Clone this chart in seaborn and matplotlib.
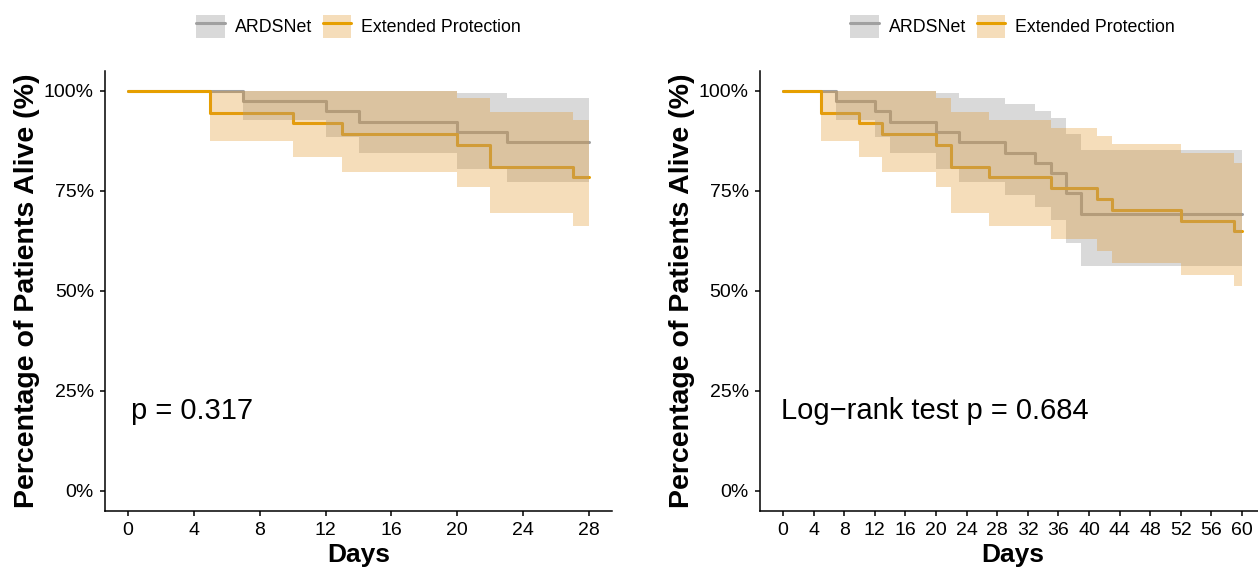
import numpy as np
import pandas as pd
import matplotlib
matplotlib.use("Agg")
import matplotlib.pyplot as plt
import seaborn as sns
from matplotlib.patches import Patch
from matplotlib.lines import Line2D
from matplotlib.ticker import FuncFormatter

# Kaplan-Meier steps (percent of patients alive)
ards_time = [0, 7, 12, 14, 20, 23, 29, 33, 35, 37, 39]
ards_surv = [100, 97.4, 94.9, 92.3, 89.7, 87.2, 84.6, 82.1, 79.5, 74.4, 69.2]
ards_upper = [100, 100, 100, 100, 99.6, 98.2, 96.7, 95.0, 93.2, 89.3, 85.3]
ards_lower = [100, 92.7, 88.6, 84.4, 80.5, 77.3, 74.0, 71.0, 67.7, 61.9, 56.3]

ext_time = [0, 5, 10, 13, 20, 22, 27, 35, 41, 43, 52, 59]
ext_surv = [100, 94.6, 91.9, 89.2, 86.5, 81.1, 78.4, 75.7, 73.0, 70.3, 67.6, 64.9]
ext_upper = [100, 100, 100, 100, 98.2, 94.7, 92.7, 90.7, 88.8, 86.7, 84.4, 82.1]
ext_lower = [100, 87.6, 83.6, 79.8, 76.1, 69.4, 66.2, 63.1, 60.0, 57.1, 54.1, 51.2]

groups = ["ARDSNet", "Extended Protection"]
y_ticks = [0, 25, 50, 75, 100]

# one panel per follow-up window
follow_up = [28, 60]
pval_labels = ["p = 0.317", "Log\u2212rank test p = 0.684"]

colors = {"ARDSNet": "#A0A0A0", "Extended Protection": "#E69F00"}
band_colors = {"ARDSNet": "#A0A0A0", "Extended Protection": "#E0962A"}
band_alpha = {"ARDSNet": 0.4, "Extended Protection": 0.32}


def km_frame(time, surv, lower, upper, end, name):
    df = pd.DataFrame({"time": time, "surv": surv, "lower": lower, "upper": upper})
    df = df[df["time"] <= end]
    last = df.iloc[[-1]].copy()
    last["time"] = end
    df = pd.concat([df, last], ignore_index=True)
    df["group"] = name
    return df


sns.set_theme(style="ticks", rc={
    "axes.edgecolor": "black",
    "axes.labelcolor": "black",
    "xtick.color": "black",
    "ytick.color": "black",
    "text.color": "black",
    "axes.linewidth": 1.1,
    "xtick.major.width": 1.1,
    "ytick.major.width": 1.1,
    "xtick.major.size": 3.5,
    "ytick.major.size": 3.5,
})
plt.rcParams["font.family"] = ["Liberation Sans", "DejaVu Sans"]

fig = plt.figure(figsize=(12.58, 5.68), dpi=100)
positions = [[0.0835, 0.1004, 0.403, 0.7746], [0.6041, 0.1004, 0.4014, 0.7746]]
pval_x = [0.2, -0.3]

for pos, end, ptxt, px in zip(positions, follow_up, pval_labels, pval_x):
    ax = fig.add_axes(pos)
    data = pd.concat([
        km_frame(ards_time, ards_surv, ards_lower, ards_upper, end, "ARDSNet"),
        km_frame(ext_time, ext_surv, ext_lower, ext_upper, end, "Extended Protection"),
    ], ignore_index=True)

    sns.lineplot(data=data, x="time", y="surv", hue="group", hue_order=groups,
                 palette=colors, drawstyle="steps-post", estimator=None,
                 lw=2.2, legend=False, ax=ax, zorder=1)

    # confidence bands go over the curves, orange last
    for i, g in enumerate(groups):
        d = data[data["group"] == g]
        ax.fill_between(d["time"], d["lower"], d["upper"], step="post",
                        color=band_colors[g], alpha=band_alpha[g], lw=0, zorder=2 + i)

    ax.set_xlim(-0.05 * end, end * 1.05)
    ax.set_ylim(-5, 105)
    ax.set_xticks(range(0, end + 1, 4))
    ax.set_yticks(y_ticks)
    ax.yaxis.set_major_formatter(FuncFormatter(lambda v, _: f"{v:.0f}%"))
    ax.tick_params(labelsize=14, pad=4.5)
    sns.despine(ax=ax)

    ax.set_xlabel("Days", fontsize=19, fontweight="bold", labelpad=3)
    ax.set_ylabel("Percentage of Patients Alive (%)", fontsize=20.5,
                  fontweight="bold", labelpad=3)

    ax.text(px, 20, ptxt, fontsize=21, ha="left", va="center")

    handles = [(Patch(facecolor=band_colors[g], alpha=band_alpha[g], lw=0),
                Line2D([], [], color=colors[g], lw=2.2)) for g in groups]
    ax.legend(handles, groups, loc="center", bbox_to_anchor=(0.5, 1.102),
              ncol=2, frameon=False, fontsize=12.8, handlelength=1.6,
              handleheight=1.6, handletextpad=0.55, columnspacing=0.6)

fig.savefig("out.png", dpi=100)
